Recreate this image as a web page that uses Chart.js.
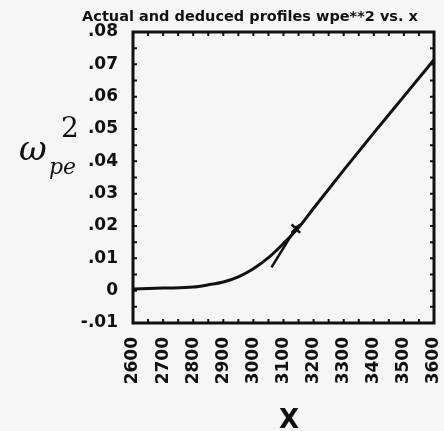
<!DOCTYPE html>
<html>
<head>
<meta charset="utf-8">
<script src="https://cdn.jsdelivr.net/npm/chart.js@4/dist/chart.umd.min.js"></script>
<style>
  html, body { margin: 0; padding: 0; background: #f6f6f6; }
  #wrap { width: 444px; height: 431px; position: relative; }
</style>
</head>
<body>
<div id="wrap"><canvas id="chart"></canvas></div>
<script>
// actual profile wpe**2 vs x
const actualX = [2600, 2700, 2800, 2850, 2900, 2950, 3000, 3050, 3100, 3150, 3200, 3300, 3400, 3500, 3600];
const actualY = [0.0005, 0.0008, 0.0011, 0.0018, 0.0027, 0.0043, 0.0068, 0.0102, 0.0146, 0.0195, 0.0255, 0.0373, 0.0488, 0.0601, 0.0714];

// deduced (straight) profile segment
const deducedX = [3060, 3145];
const deducedY = [0.0072, 0.0200];

// cross marker
const markX = [3141];
const markY = [0.0192];

const xTicksMin = 2600, xTicksMax = 3600, xStep = 100;
const yTicksMin = -0.01, yTicksMax = 0.08, yStep = 0.01;

const ink = '#111';
const toPts = (xs, ys) => xs.map((x, i) => ({ x, y: ys[i] }));

function fmtY(v) {
  const n = Math.round(v * 100);
  if (n === 0) return '0';
  return (n < 0 ? '-' : '') + '.' + String(Math.abs(n)).padStart(2, '0');
}

// frame, inward minor ticks, and the odd labels
const decor = {
  id: 'decor',
  afterDraw(chart) {
    const { ctx, chartArea: a, scales: { x, y } } = chart;
    ctx.save();
    ctx.strokeStyle = ink;
    ctx.lineWidth = 3;
    ctx.strokeRect(a.left, a.top, a.right - a.left, a.bottom - a.top);

    ctx.lineWidth = 2;
    const len = 4;
    for (let v = xTicksMin; v <= xTicksMax; v += xStep / 2) {
      const px = x.getPixelForValue(v);
      ctx.beginPath();
      ctx.moveTo(px, a.bottom); ctx.lineTo(px, a.bottom - len);
      ctx.moveTo(px, a.top); ctx.lineTo(px, a.top + len);
      ctx.stroke();
    }
    for (let i = 0; i <= Math.round((yTicksMax - yTicksMin) / (yStep / 2)); i++) {
      const py = y.getPixelForValue(yTicksMin + i * yStep / 2);
      ctx.beginPath();
      ctx.moveTo(a.left, py); ctx.lineTo(a.left + len, py);
      ctx.moveTo(a.right, py); ctx.lineTo(a.right - len, py);
      ctx.stroke();
    }

    ctx.fillStyle = ink;
    // title
    ctx.font = 'bold 14.5px "DejaVu Sans"';
    ctx.textAlign = 'center';
    ctx.textBaseline = 'alphabetic';
    ctx.fillText('Actual and deduced profiles wpe**2 vs. x', 250, 21);

    // x axis title
    ctx.font = 'bold 26px "DejaVu Sans"';
    ctx.fillText('X', 289, 428);

    // y axis title: omega_pe^2
    ctx.textAlign = 'left';
    ctx.font = 'italic 34px "DejaVu Serif"';
    ctx.fillText('ω', 19, 160);
    ctx.font = 'italic 22px "DejaVu Serif"';
    ctx.fillText('pe', 49, 174);
    ctx.font = '28px "DejaVu Serif"';
    ctx.fillText('2', 61, 137);
    ctx.restore();
  }
};

new Chart(document.getElementById('chart'), {
  type: 'line',
  data: {
    datasets: [
      {
        label: 'actual',
        data: toPts(actualX, actualY),
        borderColor: ink,
        borderWidth: 3,
        pointRadius: 0,
        cubicInterpolationMode: 'monotone',
        fill: false
      },
      {
        label: 'deduced',
        data: toPts(deducedX, deducedY),
        borderColor: ink,
        borderWidth: 2.5,
        pointRadius: 0,
        fill: false
      },
      {
        label: 'mark',
        data: toPts(markX, markY),
        showLine: false,
        pointStyle: 'crossRot',
        pointRadius: 6,
        borderColor: ink,
        pointBorderWidth: 2.5
      }
    ]
  },
  options: {
    responsive: true,
    maintainAspectRatio: false,
    animation: false,
    layout: { padding: { top: 32, right: 10, left: 0, bottom: 0 } },
    plugins: {
      legend: { display: false },
      title: { display: false },
      tooltip: { enabled: false }
    },
    scales: {
      x: {
        type: 'linear',
        min: xTicksMin,
        max: xTicksMax,
        grid: { display: false, drawTicks: false },
        border: { display: false },
        afterFit: (s) => { s.height = 108; s.paddingLeft = 0; s.paddingRight = 0; },
        ticks: {
          stepSize: xStep,
          minRotation: 90,
          maxRotation: 90,
          padding: 14,
          color: ink,
          font: { family: 'DejaVu Sans', weight: 'bold', size: 17 },
          callback: (v) => String(v)
        }
      },
      y: {
        min: yTicksMin,
        max: yTicksMax,
        grid: { display: false, drawTicks: false },
        border: { display: false },
        afterFit: (s) => { s.width = 133; s.paddingTop = 0; s.paddingBottom = 0; },
        ticks: {
          stepSize: yStep,
          padding: 15,
          color: ink,
          font: { family: 'DejaVu Sans', weight: 'bold', size: 17 },
          callback: (v) => fmtY(v)
        }
      }
    }
  },
  plugins: [decor]
});
</script>
</body>
</html>
